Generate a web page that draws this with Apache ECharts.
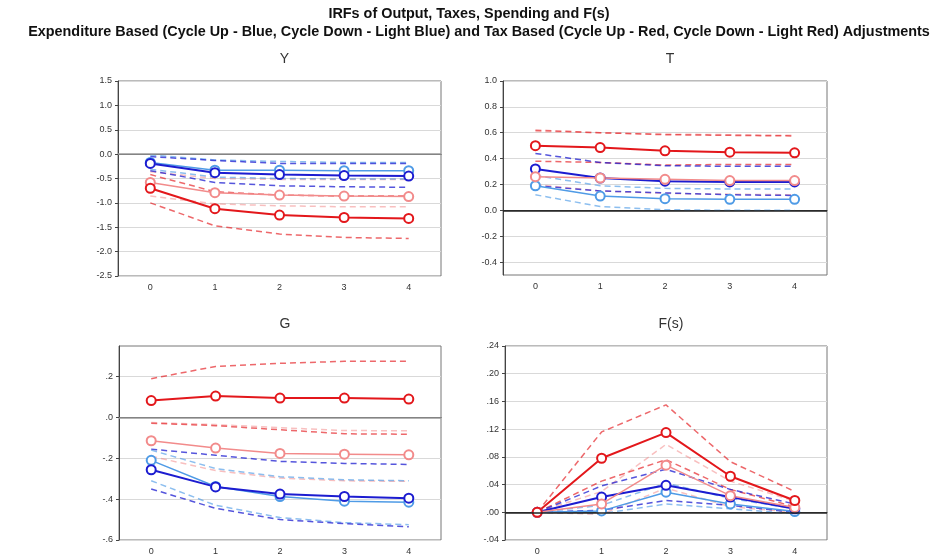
<!DOCTYPE html>
<html>
<head>
<meta charset="utf-8">
<script src="https://cdn.jsdelivr.net/npm/echarts@6/dist/echarts.min.js"></script>
<style>
  html, body { margin: 0; padding: 0; background: #fff; }
  #chart { width: 941px; height: 560px; }
</style>
</head>
<body>
<div id="chart"></div>
<script>
var categories = ['0', '1', '2', '3', '4'];

// tick labels of each panel
var yTicks = [-2.5, -2.0, -1.5, -1.0, -0.5, 0.0, 0.5, 1.0, 1.5];
var tTicks = [-0.4, -0.2, 0.0, 0.2, 0.4, 0.6, 0.8, 1.0];
var gTicks = [-0.6, -0.4, -0.2, 0.0, 0.2];
var fTicks = [-0.04, 0.0, 0.04, 0.08, 0.12, 0.16, 0.20, 0.24];

// Y
var yBlue    = [-0.19, -0.38, -0.42, -0.44, -0.45];
var yBlueHi  = [-0.05, -0.13, -0.19, -0.19, -0.19];
var yBlueLo  = [-0.34, -0.58, -0.65, -0.67, -0.68];
var yLBlue   = [-0.17, -0.33, -0.33, -0.34, -0.34];
var yLBlueHi = [-0.02, -0.12, -0.15, -0.17, -0.17];
var yLBlueLo = [-0.31, -0.47, -0.50, -0.51, -0.51];
var yRed     = [-0.70, -1.12, -1.25, -1.30, -1.32];
var yRedHi   = [-0.42, -0.77, -0.84, -0.86, -0.86];
var yRedLo   = [-1.00, -1.47, -1.64, -1.71, -1.73];
var yLRed    = [-0.58, -0.79, -0.84, -0.86, -0.87];
var yLRedHi  = [-0.36, -0.50, -0.52, -0.52, -0.52];
var yLRedLo  = [-0.86, -1.02, -1.06, -1.08, -1.08];

// T
var tBlue    = [0.32, 0.25, 0.225, 0.22, 0.22];
var tBlueHi  = [0.44, 0.37, 0.345, 0.34, 0.34];
var tBlueLo  = [0.19, 0.15, 0.135, 0.12, 0.115];
var tLBlue   = [0.19, 0.11, 0.09, 0.085, 0.085];
var tLBlueHi = [0.27, 0.19, 0.17, 0.165, 0.165];
var tLBlueLo = [0.12, 0.03, 0.005, 0.0, 0.0];
var tRed     = [0.50, 0.485, 0.46, 0.45, 0.445];
var tRedHi   = [0.62, 0.60, 0.585, 0.58, 0.575];
var tRedLo   = [0.38, 0.37, 0.35, 0.355, 0.355];
var tLRed    = [0.26, 0.25, 0.24, 0.23, 0.23];
var tLRedHi  = [0.61, 0.60, 0.59, 0.585, 0.58];
var tLRedLo  = [0.20, 0.15, 0.13, 0.125, 0.12];

// G
var gBlue    = [-0.256, -0.34, -0.375, -0.387, -0.395];
var gBlueHi  = [-0.155, -0.185, -0.215, -0.225, -0.23];
var gBlueLo  = [-0.35, -0.445, -0.50, -0.52, -0.535];
var gLBlue   = [-0.21, -0.338, -0.387, -0.41, -0.415];
var gLBlueHi = [-0.16, -0.25, -0.29, -0.305, -0.31];
var gLBlueLo = [-0.31, -0.43, -0.49, -0.515, -0.525];
var gRed     = [0.083, 0.105, 0.095, 0.095, 0.09];
var gRedHi   = [0.19, 0.25, 0.265, 0.275, 0.275];
var gRedLo   = [-0.028, -0.04, -0.06, -0.08, -0.082];
var gLRed    = [-0.114, -0.15, -0.176, -0.18, -0.183];
var gLRedHi  = [-0.025, -0.035, -0.05, -0.064, -0.065];
var gLRedLo  = [-0.19, -0.26, -0.297, -0.31, -0.313];

// F(s)
var fBlue    = [0, 0.022, 0.039, 0.022, 0.005];
var fBlueHi  = [0, 0.038, 0.062, 0.033, 0.012];
var fBlueLo  = [0, 0.003, 0.017, 0.010, 0.0];
var fLBlue   = [0, 0.002, 0.029, 0.012, 0.001];
var fLBlueHi = [0, 0.010, 0.042, 0.020, 0.005];
var fLBlueLo = [0, -0.002, 0.012, 0.005, -0.002];
var fRed     = [0, 0.078, 0.115, 0.052, 0.017];
var fRedHi   = [0, 0.116, 0.155, 0.073, 0.030];
var fRedLo   = [0, 0.045, 0.076, 0.033, 0.008];
var fLRed    = [0, 0.012, 0.068, 0.024, 0.007];
var fLRedHi  = [0, 0.030, 0.098, 0.045, 0.016];
var fLRedLo  = [0, -0.003, 0.035, 0.008, 0.0];

var BLUE = '#1c1cd0', LBLUE = '#4f9be6', RED = '#e3171b', LRED = '#f28b8b';
var font = 'Liberation Sans';

function dashed(name, data, idx, color, opacity) {
  return {
    name: name, type: 'line', data: data, xAxisIndex: idx, yAxisIndex: idx,
    symbol: 'none', silent: true,
    lineStyle: { color: color, width: 1.5, type: [6, 4], opacity: opacity }
  };
}
function solid(name, data, idx, color, width) {
  return {
    name: name, type: 'line', data: data, xAxisIndex: idx, yAxisIndex: idx,
    symbol: 'circle', symbolSize: 9, silent: true,
    lineStyle: { color: color, width: width },
    itemStyle: { color: '#fff', borderColor: color, borderWidth: 2 }
  };
}
function panelSeries(idx, s, zeroColor) {
  var list = [
    dashed('lrhi', s[10], idx, LRED, 0.55),
    dashed('lrlo', s[11], idx, LRED, 0.55),
    dashed('lbhi', s[4], idx, LBLUE, 0.65),
    dashed('lblo', s[5], idx, LBLUE, 0.65),
    dashed('rhi', s[7], idx, RED, 0.65),
    dashed('rlo', s[8], idx, RED, 0.65),
    dashed('bhi', s[1], idx, BLUE, 0.75),
    dashed('blo', s[2], idx, BLUE, 0.75),
    solid('Cycle Down - Light Blue', s[3], idx, LBLUE, 1.5),
    solid('Cycle Up - Blue', s[0], idx, BLUE, 2),
    solid('Cycle Down - Light Red', s[9], idx, LRED, 1.5),
    solid('Cycle Up - Red', s[6], idx, RED, 2)
  ];
  list[0].markLine = {
    silent: true, symbol: 'none', label: { show: false },
    lineStyle: { color: zeroColor, width: 1.5, type: 'solid', opacity: 1 },
    data: [{ yAxis: 0 }]
  };
  return list;
}

var grids = [
  { left: 118, top: 81, width: 323, height: 195 },
  { left: 503, top: 81, width: 324, height: 194 },
  { left: 119, top: 346, width: 322, height: 194 },
  { left: 505, top: 346, width: 322, height: 194 }
];
grids.forEach(function (g) {
  g.show = true; g.borderColor = '#777'; g.borderWidth = 1; g.backgroundColor = '#fff';
});

var panelNames = ['Y', 'T', 'G', 'F(s)'];
var ranges = [[-2.5, 1.5], [-0.5, 1.0], [-0.6, 0.35], [-0.04, 0.24]];
var ticks = [yTicks, tTicks, gTicks, fTicks];
var fmts = [
  function (v) { return v.toFixed(1); },
  function (v) { return v.toFixed(1); },
  function (v) { return v.toFixed(1).replace('0.', '.'); },
  function (v) { return v.toFixed(2).replace('0.', '.'); }
];

var xAxes = [], yAxes = [], titles = [];
titles.push({
  text: 'IRFs of Output, Taxes, Spending and F(s)', left: 464, top: 2, textAlign: 'center',
  textStyle: { fontFamily: font, fontSize: 14.4, fontWeight: 'bold', color: '#111' }
});
titles.push({
  text: 'Expenditure Based (Cycle Up - Blue, Cycle Down - Light Blue) and Tax Based (Cycle Up - Red, Cycle Down - Light Red) Adjustments',
  left: 474, top: 20, textAlign: 'center',
  textStyle: { fontFamily: font, fontSize: 14.4, fontWeight: 'bold', color: '#111' }
});
for (var i = 0; i < 4; i++) {
  var g = grids[i];
  titles.push({
    text: panelNames[i], left: g.left + g.width / 2, top: g.top - 34, textAlign: 'center',
    textStyle: { fontFamily: font, fontSize: 14, fontWeight: 'normal', color: '#333' }
  });
  xAxes.push({
    type: 'category', gridIndex: i, data: categories, boundaryGap: true,
    axisLine: { lineStyle: { color: '#444' } },
    axisTick: { inside: true, length: 3, lineStyle: { color: '#444' } },
    axisLabel: { fontFamily: font, fontSize: 9, color: '#333', margin: 7 },
    splitLine: { show: false }
  });
  yAxes.push({
    type: 'value', gridIndex: i, min: ranges[i][0], max: ranges[i][1],
    axisLine: { show: true, lineStyle: { color: '#444' } },
    axisTick: { show: true, length: 3, customValues: ticks[i], lineStyle: { color: '#444' } },
    axisLabel: { fontFamily: font, fontSize: 9, color: '#333', margin: 6, customValues: ticks[i], formatter: fmts[i] },
    splitLine: { show: true, lineStyle: { color: '#d9d9d9', width: 1 } }
  });
}

var series = [].concat(
  panelSeries(0, [yBlue, yBlueHi, yBlueLo, yLBlue, yLBlueHi, yLBlueLo, yRed, yRedHi, yRedLo, yLRed, yLRedHi, yLRedLo], '#9a9a9a'),
  panelSeries(1, [tBlue, tBlueHi, tBlueLo, tLBlue, tLBlueHi, tLBlueLo, tRed, tRedHi, tRedLo, tLRed, tLRedHi, tLRedLo], '#222'),
  panelSeries(2, [gBlue, gBlueHi, gBlueLo, gLBlue, gLBlueHi, gLBlueLo, gRed, gRedHi, gRedLo, gLRed, gLRedHi, gLRedLo], '#9a9a9a'),
  panelSeries(3, [fBlue, fBlueHi, fBlueLo, fLBlue, fLBlueHi, fLBlueLo, fRed, fRedHi, fRedLo, fLRed, fLRedHi, fLRedLo], '#222')
);

var chart = echarts.init(document.getElementById('chart'), null, { renderer: 'canvas' });
chart.setOption({
  animation: false,
  backgroundColor: '#fff',
  title: titles,
  grid: grids,
  xAxis: xAxes,
  yAxis: yAxes,
  series: series
});
</script>
</body>
</html>
